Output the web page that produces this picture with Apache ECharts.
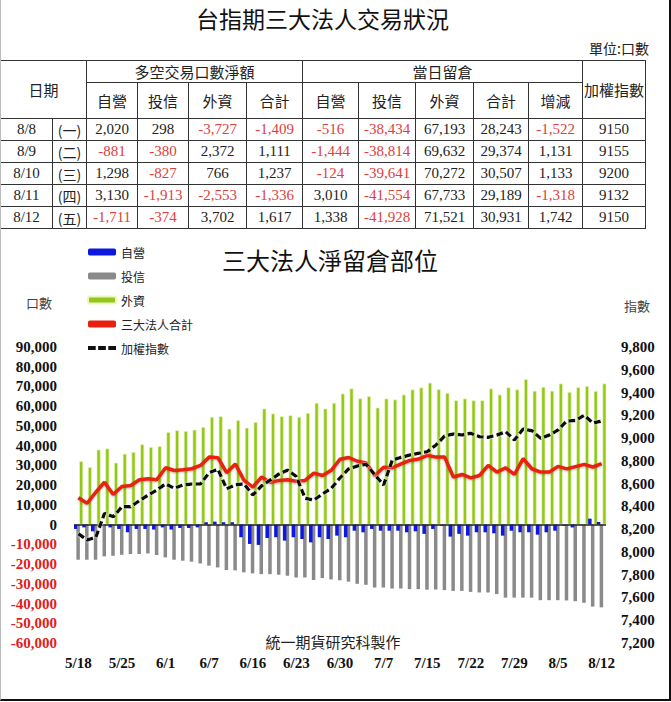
<!DOCTYPE html>
<html>
<head>
<meta charset="utf-8">
<script src="https://cdn.jsdelivr.net/npm/echarts@6/dist/echarts.min.js"></script>
<style>
  html, body { margin: 0; padding: 0; background: #fff; }
  #wrap { position: relative; width: 671px; height: 702px; overflow: hidden; background: #fff; }
  #chart { position: absolute; left: 0; top: 0; width: 671px; height: 702px; }
  #frame { position: absolute; left: 0; top: 0; width: 668px; height: 699px; border-left: 1px solid #bbb; border-right: 2px solid #111; border-bottom: 2px solid #111; pointer-events: none; z-index: 5; }
  #title { position: absolute; left: 0; width: 645px; top: 3px; text-align: center; font-family: "Noto Sans CJK TC", sans-serif; font-size: 23px; color: #111; line-height: 30px; z-index: 3; }
  #unit { position: absolute; right: 22px; top: 39px; font-family: "Noto Sans CJK TC", sans-serif; font-size: 14px; color: #222; line-height: 18px; z-index: 3; }
  #tbl { position: absolute; left: 0; top: 60px; border-collapse: collapse; table-layout: fixed; width: 645px; z-index: 3; background: #fff; }
  #tbl td { border: 1px solid #333; padding: 0; text-align: center; vertical-align: middle; overflow: hidden; white-space: nowrap; }
  #tbl .h { font-family: "Noto Sans CJK TC", sans-serif; font-size: 15px; color: #222; }
  #tbl .n { font-family: "Liberation Serif", serif; font-size: 15px; color: #222; }
  #tbl .neg { color: #e0403c; }
</style>
</head>
<body>
<div id="wrap">
  <div id="chart"></div>
  <div id="title">台指期三大法人交易狀況</div>
  <div id="unit">單位:口數</div>
  <table id="tbl"></table>
  <div id="frame"></div>
</div>
<script>
// ---------- Table data ----------
const tDates = ['8/8', '8/9', '8/10', '8/11', '8/12'];
const tWeek = ['(一)', '(二)', '(三)', '(四)', '(五)'];
const netDealer = [2020, -881, 1298, 3130, -1711];
const netTrust = [298, -380, -827, -1913, -374];
const netForeign = [-3727, 2372, 766, -2553, 3702];
const netTotal = [-1409, 1111, 1237, -1336, 1617];
const oiDealer = [-516, -1444, -124, 3010, 1338];
const oiTrust = [-38434, -38814, -39641, -41554, -41928];
const oiForeign = [67193, 69632, 70272, 67733, 71521];
const oiTotal = [28243, 29374, 30507, 29189, 30931];
const oiChange = [-1522, 1131, 1133, -1318, 1742];
const taiexTbl = [9150, 9155, 9200, 9132, 9150];

// ---------- Chart data ----------
const dates = ['5/18','5/19','5/20','5/23','5/24','5/25','5/26','5/27','5/30','5/31',
  '6/1','6/2','6/3','6/4','6/6','6/7','6/8','6/13','6/14','6/15','6/16','6/17','6/20','6/21','6/22','6/23','6/24','6/27','6/28','6/29','6/30',
  '7/1','7/4','7/5','7/6','7/7','7/11','7/12','7/13','7/14','7/15','7/18','7/19','7/20','7/21','7/22','7/25','7/26','7/27','7/28','7/29',
  '8/1','8/2','8/3','8/4','8/5','8/8','8/9','8/10','8/11','8/12'];
const dealerOI = [-2200,-1400,-3400,-800,-1400,-2200,-3900,-2200,-2200,-2500,
  -1400,-2500,-1700,-1700,-1400,1200,1500,1200,1200,-6400,-9800,-10300,-6800,-6400,-8100,-6400,-7300,-9000,-6400,-7300,-5600,
  -6400,-3100,-3900,-2200,-3100,-3100,-3100,-3900,-3400,-4700,-2200,-500,-6100,-4700,-5600,-3900,-3900,-4400,-5600,-3100,
  -3900,-3900,-5100,-3900,-3100,-516,-1444,-124,3010,1338];
const trustOI = [-17800,-17800,-17800,-16100,-15800,-15300,-14900,-14900,-14600,-15400,
  -16600,-17800,-18300,-18800,-19700,-20800,-21700,-23000,-23200,-24200,-24700,-25100,-25100,-25400,-25900,-26800,-26800,-28100,-27100,-27800,-28200,
  -28900,-30000,-30500,-31900,-31900,-32400,-32400,-32700,-32700,-33000,-32900,-33200,-33600,-33600,-34100,-34400,-34400,-35200,-37000,-37000,
  -37000,-37000,-38300,-38300,-38300,-38434,-38814,-39641,-41554,-41928];
const foreignOI = [32200,29100,38000,38600,31400,35900,36800,40700,39300,39800,
  46900,47800,47400,48100,49500,54600,54900,48600,52900,49100,52000,58800,56300,54900,55400,54600,56600,61700,58800,61700,66400,
  69000,64000,65100,59300,63900,63400,65900,68500,69500,71900,68600,66800,63000,63900,63000,63000,69000,65900,69500,68500,
  73700,67800,69800,67800,71500,67193,69632,70272,67733,71521];
const totalOI = [13600,10800,16400,21500,15300,19300,19800,22700,23200,22700,
  28800,27400,27800,28300,30000,34200,33900,26300,30700,22400,19000,24100,21500,22400,22700,22000,22400,26100,24900,27500,33100,
  34000,32100,31200,24900,29100,28800,30800,32500,33200,35100,34200,34200,24100,25400,23700,24900,30000,26600,28800,25400,
  33400,28300,26600,26600,29500,28243,29374,30507,29189,30931];
const taiex = [8160,8105,8128,8339,8309,8397,8397,8450,8500,8544,
  8597,8559,8588,8597,8597,8696,8726,8555,8590,8597,8500,8579,8632,8684,8719,8661,8471,8456,8509,8559,8650,
  8730,8755,8769,8676,8588,8807,8831,8851,8866,8880,8939,9018,9036,9027,9042,9012,9007,9027,9056,8983,
  9080,9065,8998,9027,9071,9150,9155,9200,9132,9150];

// ---------- Build table ----------
const colW = [52, 34, 51, 51, 58, 56, 56, 57, 58, 55, 54, 63];
function fmt(v) { return v.toLocaleString('en-US'); }
function numCell(v, plain) {
  return '<td class="n' + (v < 0 ? ' neg' : '') + '">' + (plain ? String(v) : fmt(v)) + '</td>';
}
let html = '<colgroup>' + colW.map(w => '<col style="width:' + w + 'px">').join('') + '</colgroup>';
html += '<tr style="height:21px"><td class="h" colspan="2" rowspan="2">日期</td><td class="h" colspan="4">多空交易口數淨額</td><td class="h" colspan="5">當日留倉</td><td class="h" rowspan="2">加權指數</td></tr>';
html += '<tr style="height:36px">' + ['自營','投信','外資','合計','自營','投信','外資','合計','增減'].map(t => '<td class="h">' + t + '</td>').join('') + '</tr>';
for (let i = 0; i < tDates.length; i++) {
  html += '<tr style="height:22px"><td class="n">' + tDates[i] + '</td><td class="n" style="font-family:\'Noto Sans CJK TC\',sans-serif;font-size:14px">' + tWeek[i] + '</td>' +
    numCell(netDealer[i]) + numCell(netTrust[i]) + numCell(netForeign[i]) + numCell(netTotal[i]) +
    numCell(oiDealer[i]) + numCell(oiTrust[i]) + numCell(oiForeign[i]) + numCell(oiTotal[i]) + numCell(oiChange[i]) +
    numCell(taiexTbl[i], true) + '</tr>';
}
document.getElementById('tbl').innerHTML = html;

// ---------- Chart ----------
const chart = echarts.init(document.getElementById('chart'), null, { renderer: 'svg' });
const numFont = { fontFamily: 'Liberation Serif', fontWeight: 'bold', fontSize: 15 };
const cjk = 'Noto Sans CJK TC';
const option = {
  animation: false,
  grid: { left: 74, right: 65, top: 347, bottom: 59, containLabel: false },
  legend: {
    orient: 'vertical', left: 82, top: 240,
    itemWidth: 28, itemHeight: 7, itemGap: 10, itemTextGap: 3,
    textStyle: { fontFamily: cjk, fontSize: 12, color: '#222', lineHeight: 14 },
    data: [
      { name: '自營', icon: 'roundRect' },
      { name: '投信', icon: 'roundRect' },
      { name: '外資', icon: 'roundRect' },
      { name: '三大法人合計', icon: 'roundRect' },
      { name: '加權指數', icon: 'path://M0,0h8v4h-8z M10.5,0h8v4h-8z M21,0h8v4h-8z' }
    ]
  },
  graphic: [
    { type: 'text', x: 330, y: 259, style: { text: '三大法人淨留倉部位', font: '24px "Noto Sans CJK TC"', fill: '#111', textAlign: 'center', textVerticalAlign: 'middle' } },
    { type: 'text', x: 39, y: 302, style: { text: '口數', font: '13px "Noto Sans CJK TC"', fill: '#444', textAlign: 'center', textVerticalAlign: 'middle' } },
    { type: 'text', x: 637, y: 305, style: { text: '指數', font: '13px "Noto Sans CJK TC"', fill: '#444', textAlign: 'center', textVerticalAlign: 'middle' } },
    { type: 'text', x: 333, y: 641, style: { text: '統一期貨研究科製作', font: '15px "Noto Sans CJK TC"', fill: '#222', textAlign: 'center', textVerticalAlign: 'middle' } }
  ],
  xAxis: {
    type: 'category', data: dates, boundaryGap: true,
    axisLine: { show: false }, axisTick: { show: false },
    axisLabel: Object.assign({ interval: 4, margin: 12, color: '#111' }, numFont)
  },
  yAxis: [
    {
      type: 'value', min: -60000, max: 90000, interval: 10000,
      splitLine: { show: false }, axisLine: { show: false }, axisTick: { show: false },
      axisLabel: Object.assign({ margin: 17, formatter: v => fmt(v), color: v => (v < 0 ? '#e0201a' : '#111') }, numFont)
    },
    {
      type: 'value', min: 7200, max: 9800, interval: 200, position: 'right',
      splitLine: { show: false }, axisLine: { show: false }, axisTick: { show: false },
      axisLabel: Object.assign({ margin: 15, formatter: v => fmt(v), color: '#111' }, numFont)
    }
  ],
  series: [
    {
      name: '自營', type: 'bar', data: dealerOI, barWidth: 3.5, barGap: '-20%',
      itemStyle: { color: '#0c18e0' }, z: 3,
      markLine: { silent: true, symbol: 'none', label: { show: false }, lineStyle: { color: '#222', width: 1.5, type: 'solid' }, data: [{ yAxis: 0 }] }
    },
    { name: '投信', type: 'bar', data: trustOI, barWidth: 3.5, barGap: '-20%', itemStyle: { color: '#8a8a8a' }, z: 2 },
    { name: '外資', type: 'bar', data: foreignOI, barWidth: 4, barGap: '-20%', itemStyle: { color: '#93c71c', borderColor: '#eef6bb', borderWidth: 0.7 }, z: 2 },
    {
      name: '三大法人合計', type: 'line', data: totalOI, yAxisIndex: 0, symbol: 'none', z: 5,
      itemStyle: { color: '#e8200e' },
      lineStyle: { color: '#e8200e', width: 3.5, shadowColor: 'rgba(0,0,0,0.25)', shadowBlur: 2, shadowOffsetY: 1 }
    },
    {
      name: '加權指數', type: 'line', data: taiex, yAxisIndex: 1, symbol: 'none', z: 6,
      itemStyle: { color: '#111' },
      lineStyle: { color: '#111', width: 3.5, type: [7, 3], shadowColor: 'rgba(255,255,255,0.9)', shadowBlur: 2 }
    }
  ]
};
chart.setOption(option);
</script>
</body>
</html>
